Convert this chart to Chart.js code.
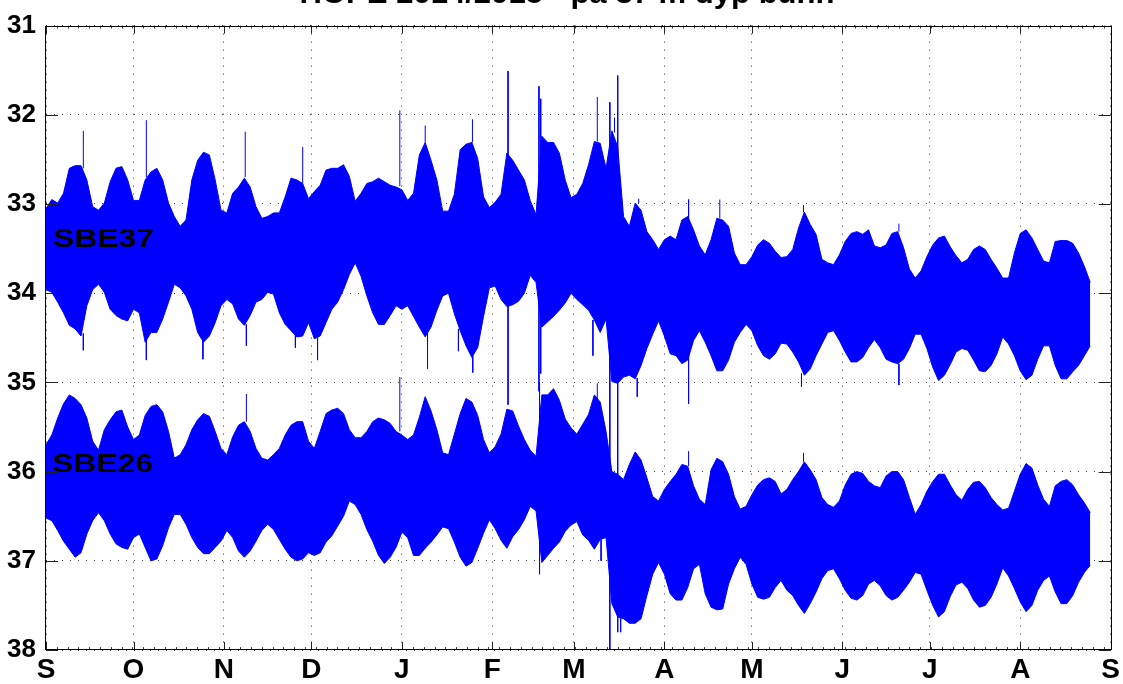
<!DOCTYPE html>
<html><head><meta charset="utf-8">
<script src="https://cdn.jsdelivr.net/npm/chart.js@4.4.1/dist/chart.umd.min.js"></script>
<style>html,body{margin:0;padding:0;background:#fff;overflow:hidden}#wrap{position:relative;width:1123px;height:684px;background:#fff}</style>
</head><body><div id="wrap"><canvas id="c" width="1123" height="684"></canvas></div>
<script>
// ---- text ----
const titleText = 'HOPE 2014/2015 - på 37 m dyp bunn';
const seriesNames = ['SBE37', 'SBE26'];
const seriesLabelDays = [2.4, 2.05];
const seriesLabelValues = [33.48, 36.0];

// ---- axes ----
const monthDays = [0,30,61,91,122,153,181,212,242,273,303,334,365];
const monthLabels = ['S','O','N','D','J','F','M','A','M','J','J','A','S'];
const yTicks = [31,32,33,34,35,36,37,38];

// ---- data: days since 1 Sep 2014, envelope (max/min) read every 2 days ----
const days = [
0,2,4,6,8,10,12,14,16,18,
20,22,24,26,28,30,32,34,36,38,
40,42,44,46,48,50,52,54,56,58,
60,62,64,66,68,70,72,74,76,78,
80,82,84,86,88,90,92,94,96,98,
100,102,104,106,108,110,112,114,116,118,
120,122,124,126,128,130,132,134,136,138,
140,142,144,146,148,150,152,154,156,158,
160,162,164,166,168,170,172,174,176,178,
180,182,184,186,188,190,192,194,196,198,
200,202,204,206,208,210,212,214,216,218,
220,222,224,226,228,230,232,234,236,238,
240,242,244,246,248,250,252,254,256,258,
260,262,264,266,268,270,272,274,276,278,
280,282,284,286,288,290,292,294,296,298,
300,302,304,306,308,310,312,314,316,318,
320,322,324,326,328,330,332,334,336,338,
340,342,344,346,348,350,352,354,356,358];

const sbe37Top = [
33.05,32.95,32.99,32.88,32.60,32.57,32.57,32.73,33.03,33.07,
32.99,32.75,32.60,32.58,32.73,32.96,32.96,32.73,32.64,32.60,
32.73,32.99,33.14,33.25,33.18,32.73,32.51,32.42,32.45,32.73,
33.07,33.10,32.88,32.81,32.71,32.81,33.03,33.16,33.14,33.10,
33.10,32.92,32.71,32.73,32.77,32.94,32.86,32.79,32.62,32.60,
32.60,32.56,32.69,32.97,32.88,32.77,32.75,32.71,32.75,32.79,
32.81,32.84,32.96,32.88,32.45,32.31,32.51,32.73,33.08,33.08,
32.89,32.39,32.33,32.31,32.49,32.92,33.04,32.98,32.89,32.43,
32.51,32.62,32.73,32.96,33.12,32.24,32.31,32.31,32.43,32.73,
32.93,32.89,32.77,32.56,32.30,32.32,32.60,32.18,32.36,33.14,
33.25,32.99,33.07,33.31,33.40,33.51,33.40,33.36,33.40,33.18,
33.14,33.29,33.47,33.57,33.40,33.16,33.18,33.25,33.55,33.68,
33.68,33.59,33.46,33.40,33.44,33.53,33.60,33.59,33.51,33.27,
33.09,33.23,33.34,33.62,33.66,33.68,33.57,33.42,33.33,33.31,
33.34,33.29,33.47,33.49,33.46,33.33,33.31,33.49,33.73,33.83,
33.75,33.59,33.46,33.38,33.36,33.48,33.58,33.66,33.62,33.51,
33.47,33.51,33.62,33.72,33.83,33.83,33.55,33.33,33.29,33.38,
33.51,33.64,33.66,33.42,33.41,33.41,33.44,33.55,33.70,33.88];

const sbe37Bottom = [
33.96,33.99,34.10,34.22,34.36,34.40,34.48,34.14,33.96,33.90,
33.99,34.18,34.25,34.29,34.31,34.18,34.22,34.55,34.44,34.44,
34.29,34.10,33.90,33.94,34.03,34.18,34.44,34.55,34.48,34.33,
34.14,34.07,34.12,34.29,34.36,34.25,34.10,34.07,33.99,34.01,
34.22,34.35,34.42,34.49,34.48,34.33,34.51,34.48,34.33,34.18,
34.10,33.96,33.79,33.66,33.81,34.03,34.22,34.35,34.35,34.25,
34.14,34.18,34.14,34.26,34.38,34.49,34.38,34.19,34.03,34.00,
34.23,34.42,34.59,34.72,34.61,34.26,33.94,33.92,34.07,34.15,
34.13,34.09,34.00,33.80,33.88,34.38,34.32,34.26,34.19,34.11,
34.00,34.07,34.13,34.19,34.30,34.44,34.29,34.99,35.01,34.94,
34.92,34.96,34.81,34.62,34.46,34.31,34.48,34.68,34.70,34.79,
34.75,34.53,34.42,34.55,34.70,34.87,34.87,34.75,34.55,34.44,
34.35,34.42,34.59,34.70,34.74,34.68,34.56,34.57,34.66,34.77,
34.92,34.85,34.70,34.57,34.44,34.42,34.53,34.66,34.77,34.77,
34.72,34.61,34.52,34.61,34.74,34.77,34.79,34.74,34.62,34.46,
34.46,34.62,34.83,34.98,34.92,34.80,34.66,34.62,34.64,34.75,
34.87,34.88,34.81,34.68,34.49,34.57,34.70,34.87,34.97,34.92,
34.74,34.59,34.59,34.81,34.96,34.96,34.88,34.81,34.70,34.59];

const sbe26Top = [
35.70,35.59,35.40,35.24,35.14,35.18,35.25,35.40,35.66,35.76,
35.53,35.42,35.33,35.31,35.50,35.64,35.59,35.37,35.27,35.25,
35.33,35.55,35.85,35.81,35.70,35.53,35.42,35.35,35.38,35.55,
35.74,35.81,35.61,35.48,35.44,35.55,35.74,35.85,35.87,35.81,
35.74,35.59,35.48,35.44,35.44,35.66,35.74,35.55,35.35,35.31,
35.29,35.35,35.53,35.62,35.62,35.55,35.44,35.40,35.42,35.46,
35.55,35.59,35.64,35.59,35.39,35.16,35.32,35.53,35.79,35.81,
35.58,35.35,35.18,35.22,35.37,35.64,35.79,35.72,35.58,35.30,
35.32,35.49,35.64,35.76,35.83,35.14,35.14,35.07,35.20,35.41,
35.51,35.58,35.47,35.36,35.14,35.22,35.55,36.00,36.03,36.09,
35.92,35.78,35.87,36.07,36.28,36.33,36.20,36.11,36.03,35.92,
35.94,36.16,36.31,36.37,35.98,35.85,35.89,36.03,36.28,36.42,
36.39,36.26,36.15,36.09,36.07,36.11,36.25,36.20,36.09,36.00,
35.89,35.98,36.09,36.29,36.37,36.40,36.33,36.15,36.03,36.00,
36.02,36.11,36.16,36.18,36.05,36.00,36.00,36.09,36.29,36.48,
36.37,36.22,36.11,36.03,36.03,36.15,36.26,36.32,36.20,36.12,
36.11,36.18,36.29,36.37,36.43,36.41,36.22,36.03,35.91,35.96,
36.15,36.31,36.39,36.16,36.11,36.09,36.15,36.26,36.35,36.46];

const sbe26Bottom = [
36.52,36.55,36.66,36.78,36.87,36.96,36.91,36.70,36.55,36.46,
36.55,36.70,36.81,36.85,36.87,36.74,36.70,36.85,37.00,36.98,
36.83,36.63,36.48,36.48,36.59,36.74,36.85,36.92,36.92,36.85,
36.78,36.66,36.74,36.89,36.96,36.89,36.78,36.66,36.59,36.65,
36.76,36.87,36.96,37.00,36.98,36.91,36.94,36.91,36.79,36.72,
36.61,36.50,36.33,36.37,36.48,36.65,36.78,36.94,37.03,36.96,
36.85,36.68,36.74,36.94,36.94,36.86,36.79,36.71,36.62,36.64,
36.79,36.96,37.06,37.02,36.86,36.69,36.54,36.64,36.77,36.86,
36.73,36.65,36.54,36.39,36.44,37.02,36.94,36.86,36.79,36.67,
36.60,36.56,36.71,36.77,36.87,36.76,36.74,37.48,37.63,37.65,
37.70,37.70,37.65,37.39,37.15,37.02,37.15,37.37,37.44,37.44,
37.30,37.09,37.04,37.37,37.52,37.55,37.54,37.26,37.09,36.96,
37.04,37.26,37.41,37.43,37.41,37.30,37.22,37.33,37.39,37.50,
37.59,37.48,37.35,37.20,37.11,37.09,37.20,37.33,37.42,37.44,
37.39,37.26,37.22,37.28,37.39,37.44,37.41,37.33,37.24,37.13,
37.15,37.33,37.50,37.63,37.57,37.40,37.27,37.24,37.31,37.44,
37.52,37.50,37.41,37.26,37.08,37.17,37.31,37.46,37.57,37.50,
37.33,37.22,37.17,37.35,37.48,37.48,37.39,37.24,37.13,37.05];

// isolated spikes: [day, from, to]
const sbe37Spikes = [
[12.8,32.60,32.18],[12.8,34.45,34.64],[34.4,32.70,32.06],[34.4,34.50,34.75],
[53.8,34.50,34.74],[68.3,32.70,32.19],[68.7,34.35,34.59],[85.5,34.45,34.61],
[88.0,32.77,32.36],[93.1,34.50,34.75],[121.3,32.80,31.95],[130.0,32.31,32.12],
[130.8,34.45,34.85],[141.4,34.40,34.65],[146.2,32.31,32.05],[146.3,34.70,34.89],
[158.4,31.51,35.25],[169.0,31.68,35.10],[169.6,31.82,34.90],[187.5,34.30,34.70],
[189.0,32.30,31.80],[193.3,31.86,38.00],[194.9,32.20,32.03],[196.0,31.56,37.80],
[202.7,34.95,35.16],[203.2,32.99,32.94],[220.3,32.95,35.24],[231.0,33.16,32.95],
[259.0,34.90,35.05],[259.7,33.09,33.01],[292.4,33.31,33.22],[292.4,34.79,35.03]];
const sbe26Spikes = [
[68.7,35.44,35.13],[121.3,35.55,34.94],[169.2,35.00,37.15],[189.0,35.22,35.01],
[190.3,36.76,37.00],[197.0,37.63,37.80],[220.3,35.94,35.77],[259.7,35.89,35.79]];

// ---- build datasets ----
const BLUE = '#0000ff';
const pts = arr => days.map((d, i) => ({x: d, y: arr[i]}));
const spikePts = list => {
  const out = [];
  list.forEach(s => { out.push({x: s[0], y: s[1]}, {x: s[0], y: s[2]}, {x: s[0], y: null}); });
  return out;
};
const lineDs = (data, fill) => ({data, borderColor: BLUE, backgroundColor: BLUE, borderWidth: 1,
  pointRadius: 0, fill, tension: 0, spanGaps: false});

const framePlugin = {
  id: 'frame',
  afterDraw(chart) {
    const {ctx, chartArea: a, scales: {x, y}} = chart;
    ctx.save();
    // minor ticks top/bottom
    ctx.strokeStyle = '#444'; ctx.lineWidth = 1;
    ctx.beginPath();
    for (let d = 0; d <= 365; d += 3.7) {
      const px = Math.round(x.getPixelForValue(d)) + 0.5;
      ctx.moveTo(px, a.top); ctx.lineTo(px, a.top + 3);
      ctx.moveTo(px, a.bottom); ctx.lineTo(px, a.bottom - 3);
    }
    ctx.stroke();
    // major ticks (inward)
    ctx.strokeStyle = '#222';
    ctx.beginPath();
    monthDays.forEach(d => {
      const px = Math.round(x.getPixelForValue(d)) + 0.5;
      ctx.moveTo(px, a.top); ctx.lineTo(px, a.top + 8);
      ctx.moveTo(px, a.bottom); ctx.lineTo(px, a.bottom - 8);
    });
    yTicks.forEach(v => {
      const py = Math.round(y.getPixelForValue(v)) + 0.5;
      ctx.moveTo(a.left, py); ctx.lineTo(a.left + 12, py);
      ctx.moveTo(a.right, py); ctx.lineTo(a.right - 12, py);
    });
    ctx.stroke();
    // box
    ctx.strokeStyle = '#000'; ctx.lineWidth = 1;
    ctx.strokeRect(Math.round(a.left) - 0.5, Math.round(a.top) + 0.5,
      Math.round(a.right - a.left) + 1, Math.round(a.bottom - a.top) - 1);
    // series labels
    ctx.fillStyle = '#000';
    ctx.font = 'bold 25px "Liberation Sans", Arial, sans-serif';
    ctx.textBaseline = 'alphabetic'; ctx.textAlign = 'left';
    seriesNames.forEach((t, i) => {
      const px = x.getPixelForValue(seriesLabelDays[i]);
      const py = y.getPixelForValue(seriesLabelValues[i]);
      const w = ctx.measureText(t).width;
      ctx.save(); ctx.translate(px, py); ctx.scale(101 / w, 1); ctx.fillText(t, 0, 0); ctx.restore();
    });
    // title (partly above the visible area)
    ctx.font = 'bold 30px "Liberation Sans", Arial, sans-serif';
    const tw = ctx.measureText(titleText).width;
    ctx.save(); ctx.translate(567, 3); ctx.scale(535 / tw, 1);
    ctx.textAlign = 'center'; ctx.fillText(titleText, 0, 0); ctx.restore();
    ctx.restore();
  }
};

new Chart(document.getElementById('c'), {
  type: 'line',
  data: {datasets: [
    lineDs(pts(sbe37Top), false),
    lineDs(pts(sbe37Bottom), '-1'),
    lineDs(pts(sbe26Top), false),
    lineDs(pts(sbe26Bottom), '-1'),
    lineDs(spikePts(sbe37Spikes), false),
    lineDs(spikePts(sbe26Spikes), false)
  ]},
  options: {
    responsive: false, animation: false, devicePixelRatio: 1,
    layout: {padding: {top: 21, right: 10, left: 0, bottom: 0}},
    plugins: {legend: {display: false}, tooltip: {enabled: false}, title: {display: false}},
    scales: {
      x: {type: 'linear', min: 0, max: 365,
        afterBuildTicks: s => { s.ticks = monthDays.map(v => ({value: v})); },
        afterFit: s => { s.height = 34; },
        ticks: {autoSkip: false, maxRotation: 0, color: '#000', padding: 3,
          font: {family: '"Liberation Sans", Arial, sans-serif', size: 28, weight: 'bold'},
          callback: (v, i) => monthLabels[i]},
        grid: {color: '#333', lineWidth: 1, drawTicks: false},
        border: {display: false, dash: [1, 7]}
      },
      y: {min: 31, max: 38, reverse: true,
        afterBuildTicks: s => { s.ticks = yTicks.map(v => ({value: v})); },
        afterFit: s => { s.width = 46; },
        ticks: {color: '#000', padding: 10,
          font: {family: '"Liberation Sans", Arial, sans-serif', size: 26, weight: 'bold'},
          callback: v => String(v)},
        grid: {color: '#333', lineWidth: 1, drawTicks: false},
        border: {display: false, dash: [1, 7]}
      }
    }
  },
  plugins: [framePlugin]
});
</script></body></html>
